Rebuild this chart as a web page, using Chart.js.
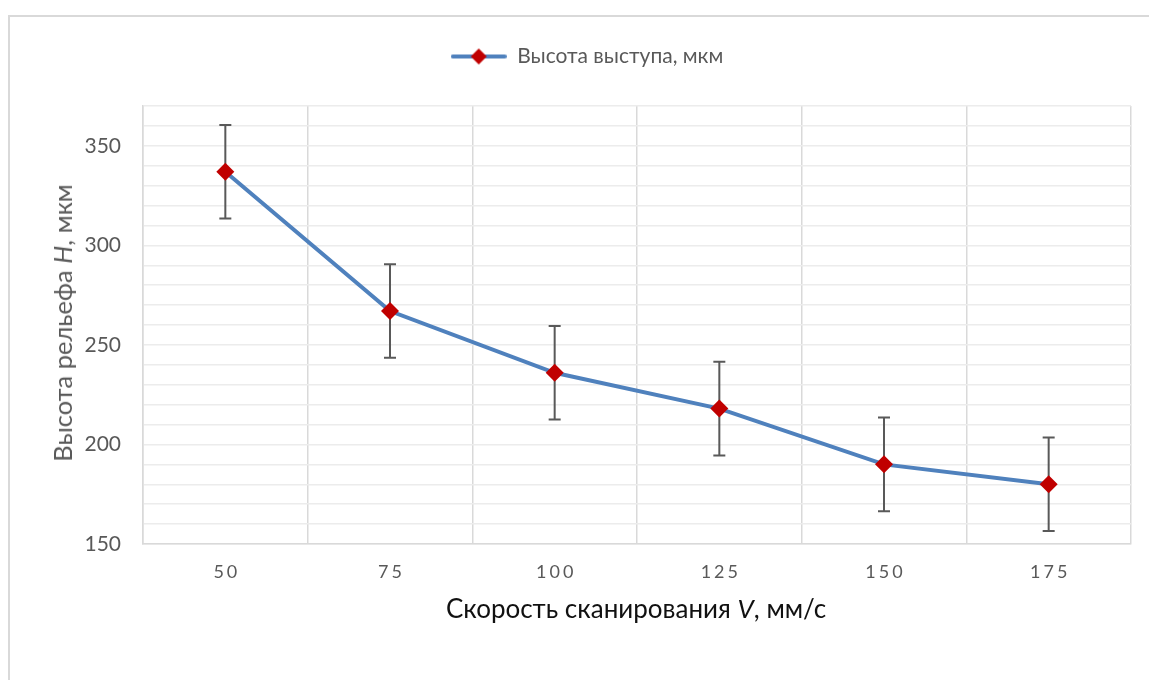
<!DOCTYPE html>
<html lang="ru">
<head>
<meta charset="UTF-8">
<title>Высота рельефа</title>
<script src="https://cdn.jsdelivr.net/npm/chart.js"></script>
<style>
  body { margin: 0; background: #fff; }
  #wrap { position: relative; width: 1149px; height: 680px; overflow: hidden; font-family: Lato, "Liberation Sans", sans-serif; }
  #frame { position: absolute; left: 8px; top: 15px; width: 1200px; height: 700px; border-left: 2px solid #d9d9d9; border-top: 2px solid #d9d9d9; }
  #chart { position: absolute; left: 0; top: 0; }
  .ytitle { position: absolute; left: 62px; top: 323px; transform: translate(-50%, -50%) rotate(-90deg); white-space: nowrap; font-size: 25.5px; color: #595959; }
  .xtitle { position: absolute; left: 636px; top: 608px; transform: translate(-50%, -50%); white-space: nowrap; font-size: 26px; color: #111; }
</style>
</head>
<body>
<div id="wrap">
  <div id="frame"></div>
  <canvas id="chart" width="1149" height="680"></canvas>
  <div class="ytitle">Высота рельефа <i>H</i>, мкм</div>
  <div class="xtitle">Скорость сканирования <i>V</i>, мм/с</div>
</div>

<script>
// scan speed, mm/s
const speeds = ['50', '75', '100', '125', '150', '175'];
// relief height, um
const heights = [337, 267, 236, 218, 190, 180];
// error bar half-width, um
const errors = [23.5, 23.5, 23.5, 23.5, 23.5, 23.5];

const seriesName = 'Высота выступа, мкм';
const lineColor = '#4f81bd';
const markColor = '#c00000';

// legend sample: line with a diamond in the middle
function legendIcon() {
  const c = document.createElement('canvas');
  c.width = 56; c.height = 20;
  const g = c.getContext('2d');
  g.strokeStyle = lineColor;
  g.lineWidth = 4;
  g.lineCap = 'round';
  g.beginPath(); g.moveTo(2, 10); g.lineTo(54, 10); g.stroke();
  g.fillStyle = markColor;
  g.beginPath(); g.moveTo(28, 2); g.lineTo(36, 10); g.lineTo(28, 18); g.lineTo(20, 10); g.closePath(); g.fill();
  return c;
}

// extra gap between the legend and the plot
const legendGap = {
  id: 'legendGap',
  beforeInit(chart) {
    const fit = chart.legend.fit;
    chart.legend.fit = function () {
      fit.call(this);
      this.height += 29;
    };
  }
};

// vertical error bars with caps, drawn under the line
const errorBars = {
  id: 'errorBars',
  beforeDatasetsDraw(chart) {
    const ctx = chart.ctx, x = chart.scales.x, y = chart.scales.y;
    ctx.save();
    ctx.strokeStyle = '#595959';
    ctx.lineWidth = 2;
    heights.forEach((h, i) => {
      const px = x.getPixelForValue(i);
      const top = y.getPixelForValue(h + errors[i]);
      const bot = y.getPixelForValue(h - errors[i]);
      ctx.beginPath();
      ctx.moveTo(px, top); ctx.lineTo(px, bot);
      ctx.moveTo(px - 6, top); ctx.lineTo(px + 6, top);
      ctx.moveTo(px - 6, bot); ctx.lineTo(px + 6, bot);
      ctx.stroke();
    });
    ctx.restore();
  }
};

// category labels with wide letter spacing
const spacedLabels = {
  id: 'spacedLabels',
  afterDraw(chart) {
    const ctx = chart.ctx, x = chart.scales.x;
    ctx.save();
    ctx.font = '18px Lato, "Liberation Sans", sans-serif';
    ctx.fillStyle = '#595959';
    ctx.letterSpacing = '3px';
    ctx.textAlign = 'center';
    ctx.textBaseline = 'middle';
    speeds.forEach((s, i) => {
      ctx.fillText(s, x.getPixelForValue(i) + 1.5, x.top + 28);
    });
    ctx.restore();
  }
};

new Chart(document.getElementById('chart'), {
  type: 'line',
  data: {
    labels: speeds,
    datasets: [{
      label: seriesName,
      data: heights,
      borderColor: lineColor,
      borderWidth: 4,
      tension: 0,
      pointStyle: 'rectRot',
      pointRadius: 9,
      pointHoverRadius: 9,
      pointBackgroundColor: markColor,
      pointBorderColor: markColor,
      pointBorderWidth: 0
    }]
  },
  options: {
    responsive: false,
    animation: false,
    layout: { padding: { left: 43, right: 18, top: 6, bottom: 0 } },
    plugins: {
      tooltip: { enabled: false },
      legend: {
        position: 'top',
        labels: {
          usePointStyle: true,
          pointStyle: legendIcon(),
          pointStyleWidth: 56,
          padding: 40,
          color: '#595959',
          font: { family: 'Lato, "Liberation Sans", sans-serif', size: 21 }
        }
      }
    },
    scales: {
      x: {
        offset: true,
        grid: { offset: true, color: '#d9d9d9', lineWidth: 1.5, drawTicks: false },
        border: { color: '#d9d9d9', width: 1.5 },
        ticks: { display: false },
        afterFit(scale) { scale.height = 136; }
      },
      y: {
        min: 150,
        max: 370,
        grid: { color: '#ececec', lineWidth: 1.5, drawTicks: false },
        border: { color: '#d9d9d9', width: 1.5 },
        ticks: {
          stepSize: 10,
          autoSkip: false,
          padding: 22,
          color: '#595959',
          font: { family: 'Lato, "Liberation Sans", sans-serif', size: 21 },
          callback: v => (v % 50 === 0 ? v : '')
        },
        afterFit(scale) { scale.width = 100; }
      }
    }
  },
  plugins: [legendGap, errorBars, spacedLabels]
});
</script>
</body>
</html>
